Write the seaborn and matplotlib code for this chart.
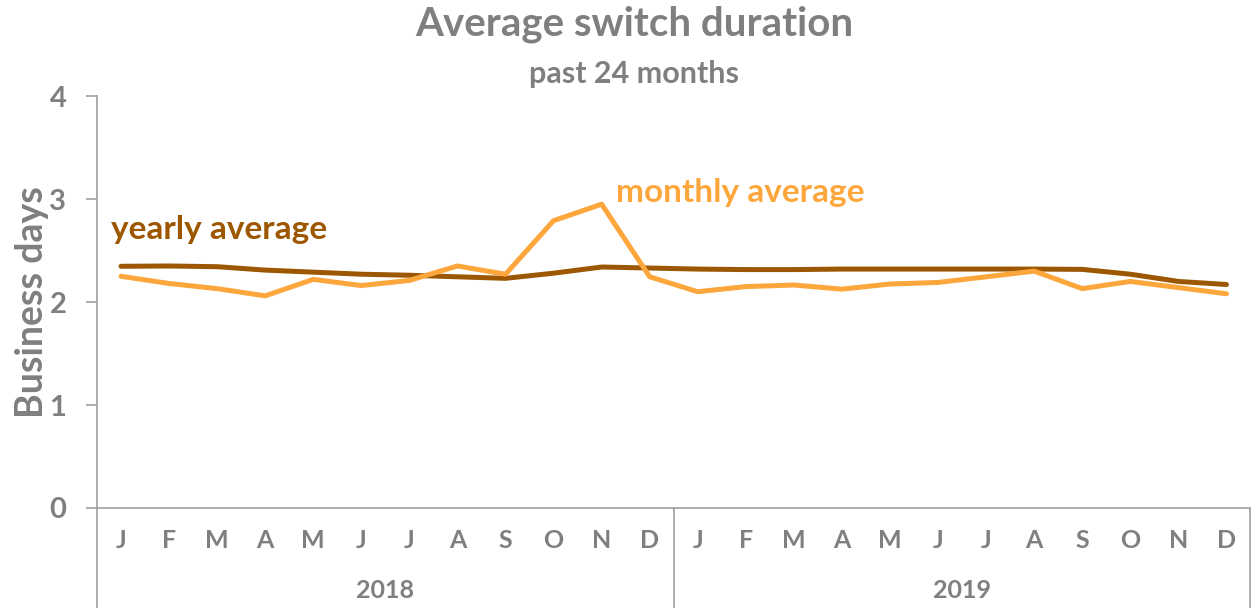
import numpy as np
import pandas as pd
import matplotlib.pyplot as plt
import seaborn as sns

months = list('JFMAMJJASOND') * 2
years = ['2018', '2019']
monthly_avg = [2.25, 2.18, 2.13, 2.06, 2.22, 2.16, 2.21, 2.35, 2.27, 2.79, 2.95, 2.245,
               2.10, 2.15, 2.165, 2.125, 2.175, 2.19, 2.245, 2.30, 2.13, 2.20, 2.14, 2.08]
yearly_avg = [2.347, 2.35, 2.343, 2.31, 2.29, 2.27, 2.26, 2.245, 2.23, 2.28, 2.34, 2.33,
              2.32, 2.315, 2.315, 2.32, 2.32, 2.32, 2.32, 2.32, 2.317, 2.27, 2.20, 2.17]

GRAY = '#7f7f7f'
AXIS = '#a0a0a0'
DARK = '#9c5700'
ORANGE = '#fca63c'

sns.set_style('white')
plt.rcParams['font.family'] = ['Lato', 'DejaVu Sans']
plt.rcParams['font.weight'] = 'bold'

df = pd.DataFrame({'pos': np.arange(24) + 0.5,
                   'monthly average': monthly_avg,
                   'yearly average': yearly_avg})

fig = plt.figure(figsize=(12.53, 6.08), dpi=100)
ax = fig.add_axes([0.0774, 0.1645, 0.9226 - 0.002, 0.6775])

sns.lineplot(data=df, x='pos', y='yearly average', ax=ax, color=DARK, linewidth=3.6)
sns.lineplot(data=df, x='pos', y='monthly average', ax=ax, color=ORANGE, linewidth=3.6)

ax.set_xlim(0, 24)
ax.set_ylim(0, 4)
ax.set_yticks([0, 1, 2, 3, 4])
ax.set_yticklabels(['0', '1', '2', '3', '4'], fontsize=21, color=GRAY, fontweight='bold')
ax.tick_params(axis='y', length=8, width=1.2, color=AXIS, pad=14, left=True, direction='out')
ax.set_xticks(df['pos'])
ax.set_xticklabels(months, fontsize=18, color=GRAY, fontweight='bold')
ax.tick_params(axis='x', length=0, pad=15)
ax.set_xlabel('')
ax.set_ylabel('Business days', fontsize=27, color=GRAY, fontweight='bold', labelpad=0)

for s in ['top', 'right']:
    ax.spines[s].set_visible(False)
for s in ['left', 'bottom']:
    ax.spines[s].set_color(AXIS)
    ax.spines[s].set_linewidth(1.2)
ax.spines['left'].set_bounds(0, 4)

trans = ax.get_xaxis_transform()
for xv in [0, 12, 24]:
    ax.plot([xv, xv], [0, -0.25], transform=trans, color=AXIS, linewidth=1.2, clip_on=False)
for i, yr in enumerate(years):
    ax.text(6 + 12 * i, -0.2, yr, transform=trans, ha='center', va='center',
            fontsize=18, color=GRAY, fontweight='bold')

ax.text(0.3, 2.7, 'yearly average', ha='left', va='center', fontsize=24,
        color=DARK, fontweight='bold')
ax.text(10.8, 3.06, 'monthly average', ha='left', va='center', fontsize=24,
        color=ORANGE, fontweight='bold')

fig.text(0.506, 0.96, 'Average switch duration', ha='center', va='center',
         fontsize=29, color=GRAY, fontweight='bold')
fig.text(0.506, 0.878, 'past 24 months', ha='center', va='center',
         fontsize=22, color=GRAY, fontweight='bold')

fig.savefig('out.png', dpi=100)
